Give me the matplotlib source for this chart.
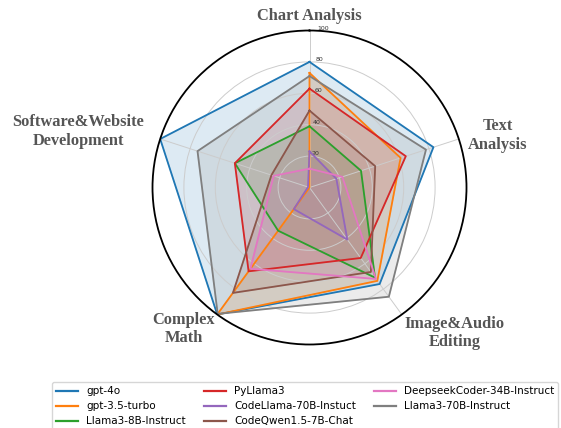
import numpy as np
import matplotlib
matplotlib.use("Agg")
import matplotlib.pyplot as plt

categories = ["Chart Analysis", "Text\nAnalysis", "Image&Audio\nEditing",
              "Complex\nMath", "Software&Website\nDevelopment"]
models = ["gpt-4o", "gpt-3.5-turbo", "Llama3-8B-Instruct", "PyLlama3",
          "CodeLlama-70B-Instuct", "CodeQwen1.5-7B-Chat",
          "DeepseekCoder-34B-Instruct", "Llama3-70B-Instruct"]
gpt4o = [80, 83, 76, 100, 100]
gpt35 = [73, 61, 73.5, 100, 0]
llama3_8b = [39, 34.5, 71, 34, 50]
pyllama3 = [63, 64.5, 55.5, 66, 50]
codellama70b = [23, 18, 41, 17, 1]
codeqwen = [49, 44, 66.5, 83, 25.5]
deepseek = [12, 22, 72, 64, 24]
llama3_70b = [71, 78, 86, 99.5, 75]
series = [gpt4o, gpt35, llama3_8b, pyllama3, codellama70b, codeqwen, deepseek, llama3_70b]
colors = ["#1f77b4", "#ff7f0e", "#2ca02c", "#d62728", "#9467bd", "#8c564b", "#e377c2", "#7f7f7f"]
rticks = [20, 40, 60, 80, 100]

W, H = 561, 428
fig = plt.figure(figsize=(W / 100, H / 100), dpi=100)
cx, cy, R = 309.5, 187.5, 157
ax = fig.add_axes([(cx - R) / W, (H - cy - R) / H, 2 * R / W, 2 * R / H], projection="polar")
ax.set_theta_offset(np.pi / 2)
ax.set_theta_direction(-1)

n = len(categories)
angles = np.linspace(0, 2 * np.pi, n, endpoint=False)
ang_closed = np.concatenate([angles, angles[:1]])

for vals, col, name in zip(series, colors, models):
    v = np.concatenate([vals, vals[:1]])
    ax.plot(ang_closed, v, color=col, lw=1.3, label=name)
    ax.fill(ang_closed, v, color=col, alpha=0.15)

ax.set_ylim(0, 100)
ax.set_xticks(angles)
ax.set_xticklabels([])
ax.set_yticks(rticks)
ax.set_yticklabels([str(t) for t in rticks], fontsize=4.5, color="#333333")
ax.set_rlabel_position(3)
ax.grid(color="#cccccc", lw=0.7)
ax.spines["polar"].set_color("black")
ax.spines["polar"].set_linewidth(1.3)

label_pos = [(309, 15.5), (498, 135.5), (455, 333), (184, 329), (78.3, 131.7)]
for lab, (px, py) in zip(categories, label_pos):
    fig.text(px / W, 1 - py / H, lab, ha="center", va="center",
             fontsize=11.8, fontweight="bold", family="Liberation Serif",
             color="#555555", linespacing=1.2)

leg = fig.legend(loc="upper left", bbox_to_anchor=(52 / W, 1 - 382 / H), ncol=3,
                 fontsize=7.45, frameon=True, handlelength=2.1, columnspacing=1.75,
                 handletextpad=0.8, labelspacing=0.5, borderaxespad=0)
leg.get_frame().set_edgecolor("#cccccc")
for h in leg.get_lines():
    h.set_linewidth(1.6)

fig.savefig("out.png", dpi=100)
